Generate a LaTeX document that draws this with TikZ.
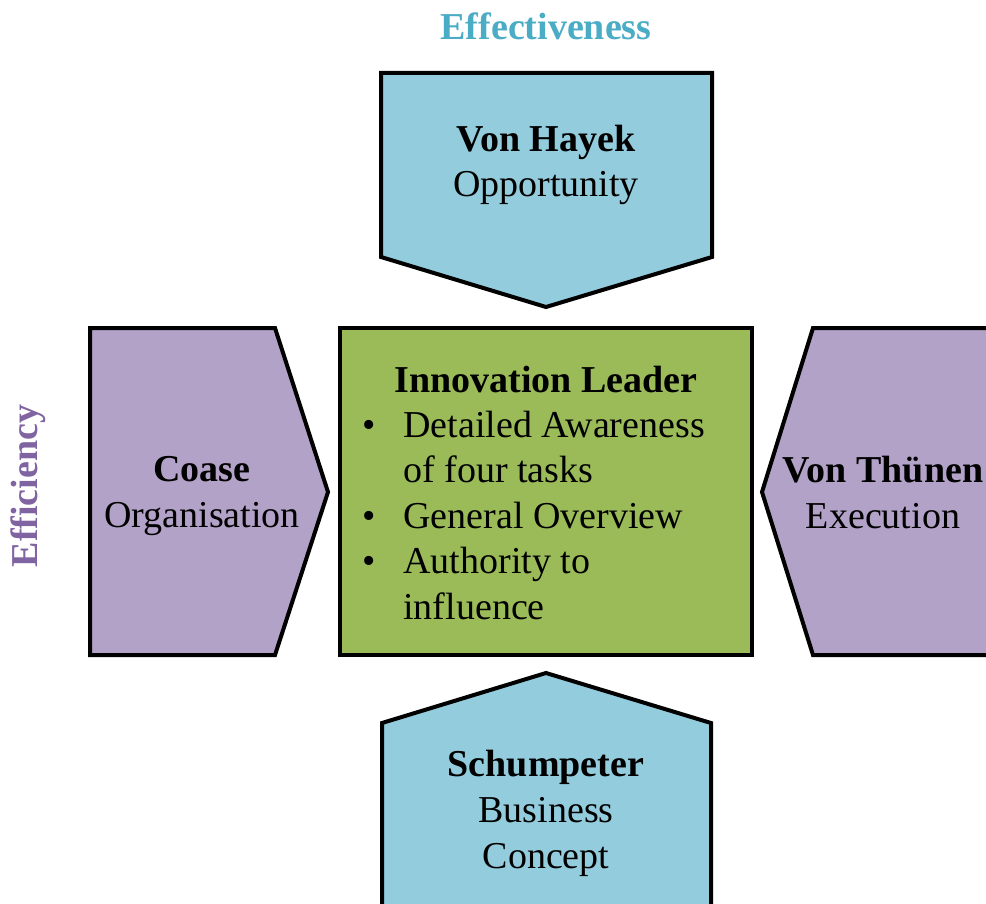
\documentclass[tikz,border=0pt]{standalone}
\usepackage{fontspec}
\setmainfont{Liberation Serif}
\definecolor{hayekblue}{HTML}{93CDDD}
\definecolor{coasepurple}{HTML}{B3A2C7}
\definecolor{leadergreen}{HTML}{9BBB59}
\definecolor{effteal}{HTML}{4BACC6}
\definecolor{effpurple}{HTML}{8064A2}
\begin{document}
\begin{tikzpicture}[x=0.5pt,y=-0.5pt,
  block/.style={draw=black,line width=2pt},
  label/.style={align=center,inner sep=0pt,font=\fontsize{19}{22.8}\selectfont},
  axis/.style={inner sep=0pt,font=\bfseries\fontsize{19}{22.8}\selectfont}]
  \useasboundingbox (0,0) rectangle (986,904);
  \clip (0,0) rectangle (986,904);
  % the four theorists round the leader
  \draw[block,fill=hayekblue] (381,73) -- (712,73) -- (712,257) -- (546,307) -- (381,257) -- cycle;
  \draw[block,fill=coasepurple] (90,328) -- (275,328) -- (328,492) -- (275,655) -- (90,655) -- cycle;
  \draw[block,fill=coasepurple] (813,328) -- (1010,328) -- (1010,655) -- (813,655) -- (762,492) -- cycle;
  \draw[block,fill=hayekblue] (382,723) -- (546,673) -- (711,723) -- (711,930) -- (382,930) -- cycle;
  \draw[block,fill=leadergreen] (340,328) rectangle (752,655);
  % texts (base = baseline of the last line)
  \node[label,anchor=base] (hayek) at (546,197) {\textbf{Von Hayek}\\Opportunity};
  \node[label,anchor=base] (coase) at (202,527) {\textbf{Coase}\\Organisation};
  \node[label,anchor=base] (thunen) at (883,528) {\textbf{Von Thünen}\\Execution};
  \node[label,anchor=base] (schumpeter) at (546,868) {\textbf{Schumpeter}\\Business\\Concept};
  \node[label,anchor=base] (leader) at (546,392) {\textbf{Innovation Leader}};
  \node[label,anchor=base west] (tasks) at (362,437) {%
    \begin{tabular}[t]{@{}p{20.5pt}@{}l@{}}
      \textbullet & Detailed Awareness\\
                  & of four tasks\\
      \textbullet & General Overview\\
      \textbullet & Authority to\\
                  & influence
    \end{tabular}};
  \node[axis,text=effteal,anchor=base] (effectiveness) at (546,40) {Effectiveness};
  \node[axis,text=effpurple,rotate=90] (efficiency) at (28,486) {Efficiency};
\end{tikzpicture}
\end{document}
